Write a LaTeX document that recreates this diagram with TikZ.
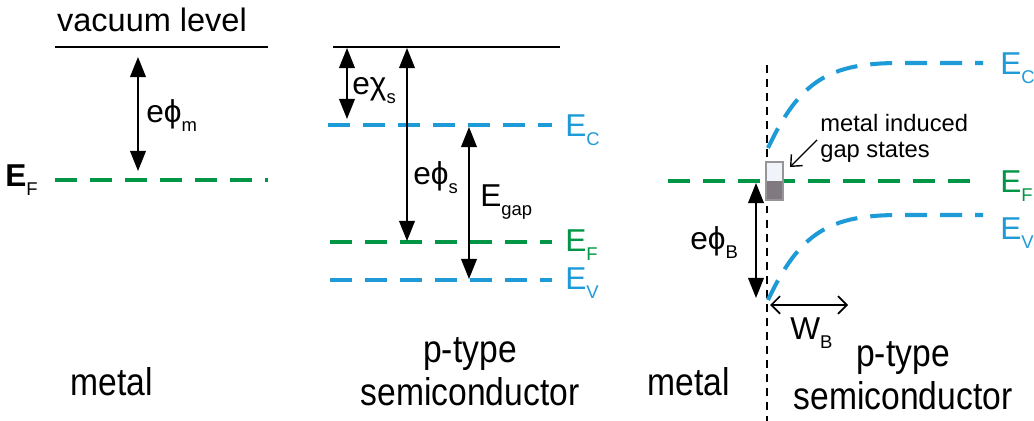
\documentclass[tikz,border=0pt]{standalone}
\usepackage{fontspec}
\setmainfont{Liberation Sans}
\newfontfamily\narrowfont[FakeStretch=0.87]{Liberation Sans}
\usepackage{tikz}
\usetikzlibrary{arrows.meta}
\usepackage{xcolor}
\definecolor{cGreen}{RGB}{0,150,70}
\definecolor{cBlue}{RGB}{30,155,215}
\definecolor{cBoxTop}{RGB}{240,244,250}
\definecolor{cBoxBot}{RGB}{128,122,128}
\definecolor{cBoxLine}{RGB}{150,150,150}
\newcommand{\lsub}[1]{\raisebox{-5pt}{\fontsize{10.5}{12}\selectfont #1}}
\tikzset{
  vacline/.style={line width=1.1pt, black},
  fermiline/.style={line width=2.3pt, cGreen,
                    dash pattern=on 0.44cm off 0.26cm},
  bandline/.style={line width=2.3pt, cBlue,
                   dash pattern=on 0.44cm off 0.26cm},
  ifaceline/.style={line width=0.6pt, black,
                    dash pattern=on 4.5pt off 3.5pt},
  gaparrow/.style={{Triangle[length=11.5pt,width=9pt]}-{Triangle[length=11.5pt,width=9pt]},
                   line width=0.9pt},
  widtharrow/.style={{Straight Barb[length=5pt,width=10pt]}-{Straight Barb[length=5pt,width=10pt]},
                     line width=1pt},
  ptrarrow/.style={-{Straight Barb[length=5pt,width=9pt]}, line width=0.8pt},
  lvllabel/.style={font=\fontsize{18}{20}\selectfont, inner sep=0pt,
                   anchor=base west},
  titlelabel/.style={font=\narrowfont\fontsize{22}{24.5}\selectfont,
                     align=center, inner sep=0pt}
}
\begin{document}
\begin{tikzpicture}[x=0.02cm, y=-0.02cm]
  \useasboundingbox (0,0) rectangle (1034,421);

  % Metal alone
  \node[inner sep=0pt, anchor=base, font=\fontsize{18.5}{20}\selectfont]
      (vaclbl) at (152,32) {vacuum level};
  \draw[vacline] (55,47) -- (268,47);
  \draw[fermiline] (55,180) -- (268,180);
  \node[lvllabel] (efm) at (5,187) {\textbf{E}\lsub{F}};
  \coordinate (mTop) at (138,57);
  \coordinate (mBot) at (138,171);
  \draw[gaparrow] (mTop) -- (mBot);
  \node[lvllabel] (phim) at (146,123) {eϕ\lsub{m}};
  \node[titlelabel, anchor=base] (metA) at (112,396) {metal};

  % p-type semiconductor alone
  \draw[vacline] (333,47) -- (560,47);
  \draw[bandline] (328,125) -- (552,125);
  \draw[fermiline] (330,242) -- (552,242);
  \draw[bandline] (330,280) -- (552,280);
  \node[lvllabel, text=cBlue] (ecA) at (565,137) {E\lsub{C}};
  \node[lvllabel, text=cGreen] (efA) at (565,252) {E\lsub{F}};
  \node[lvllabel, text=cBlue] (evA) at (565,290) {E\lsub{V}};
  \coordinate (chiTop) at (347,48);
  \coordinate (chiBot) at (347,119);
  \coordinate (phisTop) at (407,48);
  \coordinate (phisBot) at (407,241);
  \coordinate (gapTop) at (469,127);
  \coordinate (gapBot) at (469,279);
  \draw[gaparrow] (chiTop) -- (chiBot);
  \draw[gaparrow] (phisTop) -- (phisBot);
  \draw[gaparrow] (gapTop) -- (gapBot);
  \node[lvllabel] (chis) at (352,95) {eχ\lsub{s}};
  \node[lvllabel] (phis) at (413,185) {eϕ\lsub{s}};
  \node[lvllabel] (egap) at (480,207) {E\lsub{gap}};
  \node[titlelabel, anchor=north] (semA) at (470,337) {p-type\\semiconductor};

  % Contact
  \draw[ifaceline] (767,65) -- (767,421);
  \draw[fermiline] (668,181) -- (980,181);
  \draw[bandline] (768,148) .. controls (800,80) and (830,63) .. (900,63)
      -- (983,63);
  \draw[bandline] (768,300) .. controls (800,232) and (830,215) .. (900,215)
      -- (983,215);
  \node[lvllabel, text=cBlue] (ecB) at (1000,75) {E\lsub{C}};
  \node[lvllabel, text=cGreen] (efB) at (1000,193) {E\lsub{F}};
  \node[lvllabel, text=cBlue] (evB) at (1000,240) {E\lsub{V}};

  % Gap states
  \fill[cBoxTop] (766,162) rectangle (783,181);
  \fill[cBoxBot] (766,181) rectangle (783,200);
  \draw[cBoxLine, line width=0.8pt] (766,162) rectangle (783,200);
  \node[inner sep=0pt, anchor=north west, align=left,
        font=\fontsize{13.5}{14.5}\selectfont]
      (migs) at (820,114) {metal induced\\gap states};
  \coordinate (ptrFrom) at (817,140);
  \coordinate (ptrTo) at (790,167);
  \draw[ptrarrow] (ptrFrom) -- (ptrTo);

  % Barrier and width
  \coordinate (phiBTop) at (756,183);
  \coordinate (phiBBot) at (756,298);
  \draw[gaparrow] (phiBTop) -- (phiBBot);
  \node[lvllabel] (phiB) at (690,250) {eϕ\lsub{B}};
  \coordinate (wL) at (770,305);
  \coordinate (wR) at (848,305);
  \draw[widtharrow] (wL) -- (wR);
  \node[lvllabel] (wB) at (790,340) {W\lsub{B}};
  \node[titlelabel, anchor=base] (metB) at (689,396) {metal};
  \node[titlelabel, anchor=north] (semB) at (903,341) {p-type\\semiconductor};
\end{tikzpicture}
\end{document}
